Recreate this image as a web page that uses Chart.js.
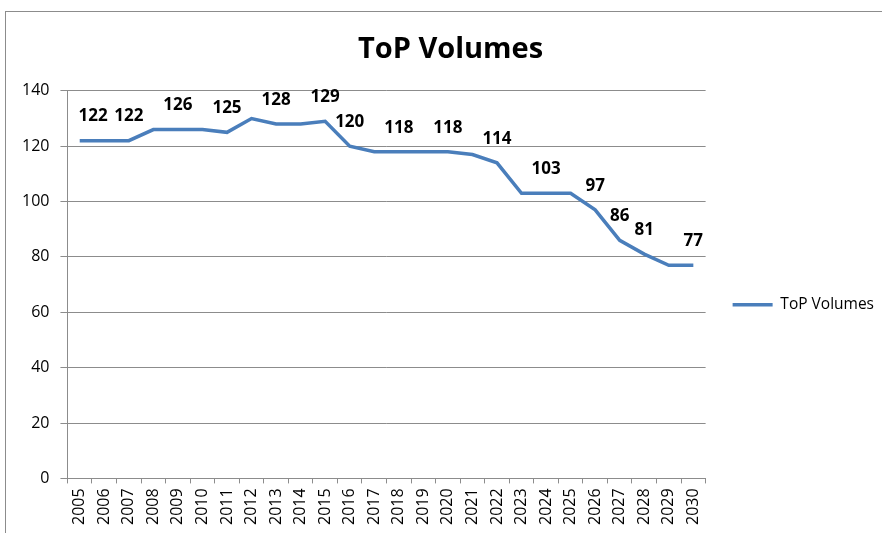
<!DOCTYPE html>
<html>
<head>
<meta charset="utf-8">
<script src="https://cdn.jsdelivr.net/npm/chart.js@4.4.1/dist/chart.umd.min.js"></script>
<style>
  html, body { margin: 0; padding: 0; background: #fff; overflow: hidden; }
  #frame {
    position: absolute;
    left: 5px;
    top: 11px;
    width: 891px;
    height: 539px;
    border: 1px solid #8c8c8c;
    background: #fff;
  }
  canvas { display: block; }
</style>
</head>
<body>
<div id="frame"><canvas id="chart" width="891" height="539"></canvas></div>
<script>
const YEARS = [
  "2005", "2006", "2007", "2008", "2009", "2010", "2011", "2012", "2013",
  "2014", "2015", "2016", "2017", "2018", "2019", "2020", "2021", "2022",
  "2023", "2024", "2025", "2026", "2027", "2028", "2029", "2030",
];
const VOLUMES = [
  122, 122, 122, 126, 126, 126, 125, 130, 128,
  128, 129, 120, 118, 118, 118, 118, 117, 114,
  103, 103, 103, 97, 86, 81, 77, 77,
];
// years that carry a value label in the original
const LABELLED_YEARS = [
  "2005", "2007", "2009", "2011", "2013", "2015", "2016", "2018",
  "2020", "2022", "2024", "2026", "2027", "2028", "2030",
];
const Y_TICKS = [0, 20, 40, 60, 80, 100, 120, 140];

const LINE_COLOR = "#4a7ebb";
const GRID_COLOR = "#8c8c8c";

// draws the bold numbers above the chosen points
const valueLabels = {
  id: "valueLabels",
  afterDatasetsDraw(chart) {
    const { ctx, chartArea } = chart;
    const meta = chart.getDatasetMeta(0);
    ctx.save();
    ctx.font = "bold 17px 'Open Sans'";
    ctx.fillStyle = "#000";
    ctx.textAlign = "center";
    ctx.textBaseline = "middle";
    LABELLED_YEARS.forEach((year) => {
      const i = YEARS.indexOf(year);
      const pt = meta.data[i];
      const text = String(VOLUMES[i]);
      const half = ctx.measureText(text).width / 2;
      // keep labels clear of the value axis
      const x = Math.max(pt.x, chartArea.left + half + 11);
      ctx.fillText(text, x, pt.y - 24);
    });
    ctx.restore();
  },
};

new Chart(document.getElementById("chart"), {
  type: "line",
  data: {
    labels: YEARS,
    datasets: [
      {
        label: "ToP Volumes",
        data: VOLUMES,
        borderColor: LINE_COLOR,
        backgroundColor: LINE_COLOR,
        borderWidth: 3.5,
        pointRadius: 0,
        tension: 0,
        fill: false,
      },
    ],
  },
  options: {
    responsive: false,
    animation: false,
    layout: {
      padding: { top: 10, right: 13, bottom: 21, left: 11 },
    },
    plugins: {
      title: {
        display: true,
        text: "ToP Volumes",
        color: "#000",
        font: { family: "'Open Sans'", size: 29, weight: "bold" },
        padding: { top: 10, bottom: 24 },
      },
      legend: {
        position: "right",
        title: {
          display: true,
          text: "",
          padding: { top: 43, bottom: 0 },
        },
        labels: {
          usePointStyle: true,
          pointStyle: "line",
          pointStyleWidth: 40,
          padding: 27,
          color: "#000",
          font: { family: "'Open Sans'", size: 15.5 },
        },
      },
      tooltip: { enabled: false },
    },
    scales: {
      x: {
        offset: true,
        grid: {
          offset: true,
          drawOnChartArea: false,
          drawTicks: true,
          tickLength: 5,
          color: GRID_COLOR,
        },
        border: { color: GRID_COLOR },
        ticks: {
          autoSkip: false,
          maxRotation: 90,
          minRotation: 90,
          padding: 5,
          color: "#000",
          font: { family: "'Open Sans'", size: 16 },
        },
      },
      y: {
        min: 0,
        max: 140,
        afterBuildTicks(scale) {
          scale.ticks = Y_TICKS.map((v) => ({ value: v }));
        },
        // let the tick labels sit a little into the left padding
        afterFit(scale) {
          scale.width -= 6;
        },
        grid: {
          color: GRID_COLOR,
          tickLength: 7,
        },
        border: { color: GRID_COLOR },
        ticks: {
          padding: 11,
          color: "#000",
          font: { family: "'Open Sans'", size: 16 },
        },
      },
    },
  },
  plugins: [valueLabels],
});
</script>
</body>
</html>
